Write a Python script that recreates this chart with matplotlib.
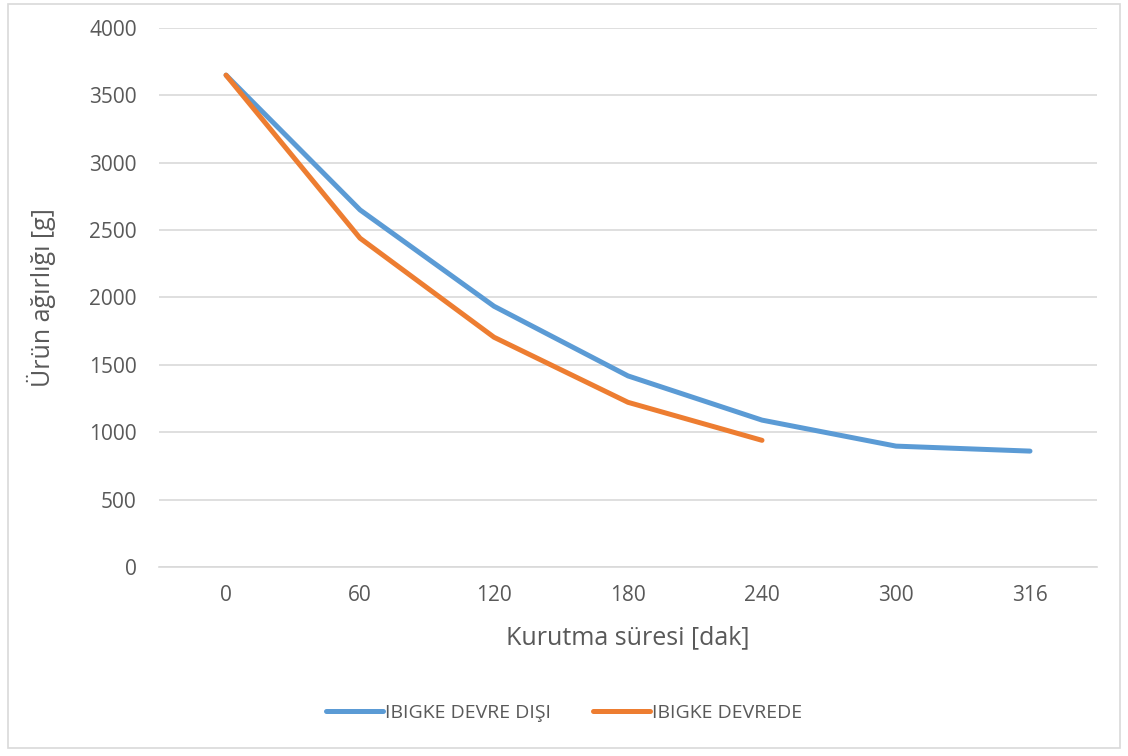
import matplotlib.pyplot as plt
import numpy as np
from matplotlib.patches import Rectangle

plt.rcParams['font.family'] = ['Open Sans', 'DejaVu Sans']

# veri
sure = ["0", "60", "120", "180", "240", "300", "316"]
devre_disi = [3650, 2650, 1935, 1418, 1090, 897, 860]
devrede = [3650, 2440, 1705, 1222, 940]

fig = plt.figure(figsize=(11.28, 7.56), dpi=100)
ax = fig.add_axes([0.141, 0.25, 0.8315, 0.713])

x = np.arange(len(sure))
ax.plot(x, devre_disi, color='#5B9BD5', lw=3.6, solid_capstyle='round',
        solid_joinstyle='round', label="IBIGKE DEVRE DIŞI")
ax.plot(x[:len(devrede)], devrede, color='#ED7D31', lw=3.6, solid_capstyle='round',
        solid_joinstyle='round', label="IBIGKE DEVREDE")

ax.set_xlim(-0.5, len(sure) - 0.5)
ax.set_ylim(0, 4000)
ax.set_yticks(np.arange(0, 4001, 500))
ax.set_xticks(x, sure)
ax.grid(axis='y', color='#D9D9D9', lw=1.2)
ax.set_axisbelow(True)
for s in ['top', 'right', 'left']:
    ax.spines[s].set_visible(False)
ax.spines['bottom'].set_color('#D9D9D9')
ax.spines['bottom'].set_linewidth(1.2)
ax.tick_params(length=0, labelsize=15, colors='#595959', pad=13)
ax.tick_params(axis='y', pad=16)

ax.set_xlabel("Kurutma süresi [dak]", fontsize=18, color='#595959', labelpad=14)
ax.set_ylabel("Ürün ağırlığı [g]", fontsize=18, color='#595959', labelpad=24)

fig.legend(loc='center', bbox_to_anchor=(0.5, 0.057), ncol=2, frameon=False,
           fontsize=14, labelcolor='#595959', handlelength=2.9, handletextpad=0.1,
           columnspacing=2.2)

fig.patches.append(Rectangle((0.007, 0.01), 0.986, 0.985, transform=fig.transFigure,
                             fill=False, edgecolor='#D9D9D9', lw=1.2))

fig.savefig("out.png", dpi=100)
